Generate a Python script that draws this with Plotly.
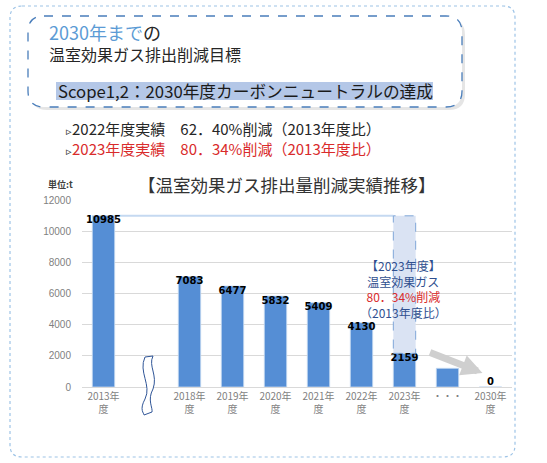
import plotly.graph_objects as go

# --- data ---
categories = ["2013年<br>度", " ", "2018年<br>度", "2019年<br>度", "2020年<br>度",
              "2021年<br>度", "2022年<br>度", "2023年<br>度", "・・・", "2030年<br>度"]
emissions = [10985, None, 7083, 6477, 5832, 5409, 4130, 2159, 1200, 0]
value_labels = ["10985", "", "7083", "6477", "5832", "5409", "4130", "2159", "", "0"]
y_ticks = [0, 2000, 4000, 6000, 8000, 10000, 12000]

W, H = 547, 463
BAR_COLOR = "#558ed5"
BAR_WIDTH = 0.52
FONT = "Noto Sans CJK JP"


def px(x):
    return x / W


def py(y):
    return 1 - y / H


def rounded_rect(x0, y0, x1, y1, r):
    # rounded rectangle path in paper coords, from pixel values
    rx, ry = r / W, r / H
    a, b, c, d = px(x0), py(y0), px(x1), py(y1)
    return (f"M {a+rx},{b} L {c-rx},{b} Q {c},{b} {c},{b-ry} "
            f"L {c},{d+ry} Q {c},{d} {c-rx},{d} L {a+rx},{d} "
            f"Q {a},{d} {a},{d+ry} L {a},{b-ry} Q {a},{b} {a+rx},{b} Z")


i23 = categories.index("2023年<br>度")
reduced = emissions[0] - emissions[i23]

fig = go.Figure()

# reduction achieved in 2023, drawn first so the real bar sits on top
fig.add_trace(go.Bar(
    x=[categories[i23]], y=[reduced], base=[emissions[i23]], width=BAR_WIDTH,
    marker=dict(color="#dae3f3", line=dict(width=0)),
    hoverinfo="skip", showlegend=False,
))

fig.add_trace(go.Bar(
    x=categories, y=emissions, width=BAR_WIDTH,
    marker=dict(color=BAR_COLOR, line=dict(color="#c5d9f1", width=0.8)),
    hoverinfo="skip", showlegend=False,
))

# data labels (just below the bar top, above the axis for zero)
text_pos = ["top center" if v == 0 else "bottom center" for v in emissions]
fig.add_trace(go.Scatter(
    x=categories, y=emissions, mode="text", text=value_labels,
    textposition=text_pos,
    textfont=dict(family="DejaVu Sans", size=10, color="black", weight="bold"),
    hoverinfo="skip", showlegend=False, cliponaxis=False,
))

shapes = []

# outer dotted frame and inner dashed heading box
shapes.append(dict(type="path", xref="paper", yref="paper",
                   path=rounded_rect(10, 6, 515, 457, 12),
                   line=dict(color="#9dc3e6", width=1.2, dash="dot")))
shapes.append(dict(type="path", xref="paper", yref="paper",
                   path=rounded_rect(31, 19, 465, 110, 16),
                   line=dict(width=0), fillcolor="rgba(0,0,0,0.10)"))
shapes.append(dict(type="path", xref="paper", yref="paper",
                   path=rounded_rect(28, 16, 462, 107, 16),
                   line=dict(color="#4a7ebb", width=1.3, dash="dash"),
                   fillcolor="white"))
shapes.append(dict(type="rect", xref="paper", yref="paper",
                   x0=px(56), x1=px(433), y0=py(82), y1=py(100),
                   line=dict(width=0), fillcolor="#b4c7e7"))

# dashed outline of the reduction box and the 2013 level line
shapes.append(dict(type="rect", xref="x", yref="y",
                   x0=i23 - BAR_WIDTH / 2, x1=i23 + BAR_WIDTH / 2,
                   y0=emissions[i23], y1=emissions[0],
                   line=dict(color="#7fa6d8", width=1, dash="dash")))
shapes.append(dict(type="line", xref="x", yref="y", layer="below",
                   x0=BAR_WIDTH / 2, x1=i23 - BAR_WIDTH / 2,
                   y0=emissions[0], y1=emissions[0],
                   line=dict(color="#c5d9f1", width=2)))

# wavy axis break
bx = 148
wave = (f"M {px(bx-3)},{py(357)} C {px(bx-10)},{py(372)} {px(bx+4)},{py(385)} {px(bx-3)},{py(399)} "
        f"C {px(bx-9)},{py(410)} {px(bx-4)},{py(413)} {px(bx-4)},{py(415)} "
        f"L {px(bx+4)},{py(412)} "
        f"C {px(bx+5)},{py(408)} {px(bx-1)},{py(400)} {px(bx+5)},{py(389)} "
        f"C {px(bx+10)},{py(375)} {px(bx)},{py(366)} {px(bx+5)},{py(356)} Z")
shapes.append(dict(type="path", xref="paper", yref="paper", path=wave,
                   line=dict(color="#2f5597", width=1), fillcolor="white"))

annotations = []


def note(x, y, text, size, color="#262626", anchor="left", family=FONT):
    annotations.append(dict(xref="paper", yref="paper", x=px(x), y=py(y),
                            text=text, showarrow=False, xanchor=anchor,
                            yanchor="middle", align=anchor,
                            font=dict(family=family, size=size, color=color)))


note(47, 43, "<span style='font-size:18px'><span style='color:#5b9bd5'>2030年まで</span>の</span>"
     "<br>温室効果ガス排出削減目標", 16)
note(56, 91, "Scope1,2：2030年度カーボンニュートラルの達成", 16.7, color="#1a1a1a")
note(64, 138,
     "<span style='font-size:11px'>▹</span>2022年度実績　62．40%削減（2013年度比）<br>"
     "<span style='font-size:11px'>▹</span><span style='color:#d92b2b'>"
     "2023年度実績　80．34%削減（2013年度比）</span>", 15)
note(287, 184, "【温室効果ガス排出量削減実績推移】", 17.5, color="#333333", anchor="center")
note(46, 184, "<b>単位:t</b>", 9, color="#404040")

# text inside the 2023 box
note(403, 289,
     "【2023年度】<br>温室効果ガス<br><span style='color:#d92b2b'>80．34%削減</span><br>（2013年度比）",
     12, color="#2f4f8f", anchor="center")

# grey arrow toward 2030
annotations.append(dict(
    xref="x", yref="y", x=categories[-1], y=emissions[-1] + 900,
    xshift=-8, ax=-54, ay=-21, showarrow=True, text="",
    arrowhead=2, arrowsize=0.6, arrowwidth=7, arrowcolor="#cfcfcf",
))

fig.update_layout(
    width=W, height=H,
    margin=dict(l=0, r=0, t=0, b=0, autoexpand=False),
    paper_bgcolor="white", plot_bgcolor="white",
    font=dict(family=FONT, color="#595959"),
    shapes=shapes, annotations=annotations,
    barmode="overlay",
    xaxis=dict(domain=[px(82), px(512)], type="category", automargin=False,
               categoryorder="array", categoryarray=categories,
               showline=True, linecolor="#d9d9d9", ticks="",
               tickfont=dict(size=10, color="#7f7f7f"), fixedrange=True),
    yaxis=dict(domain=[py(387), py(200)], range=[0, 12000], automargin=False,
               tickvals=y_ticks, tickformat="d", showgrid=True, gridcolor="#d9d9d9",
               zeroline=False, ticks="", ticklabelstandoff=10,
               tickfont=dict(size=10, color="#7f7f7f", family="Liberation Sans"),
               fixedrange=True),
)

# drop the page margin so the figure sits flush in the window
page_fix = ("document.body.style.margin='0';"
            "document.documentElement.style.overflow='hidden';"
            "document.body.style.overflow='hidden';")
fig.write_html("out.html", config={"displayModeBar": False}, post_script=page_fix)
